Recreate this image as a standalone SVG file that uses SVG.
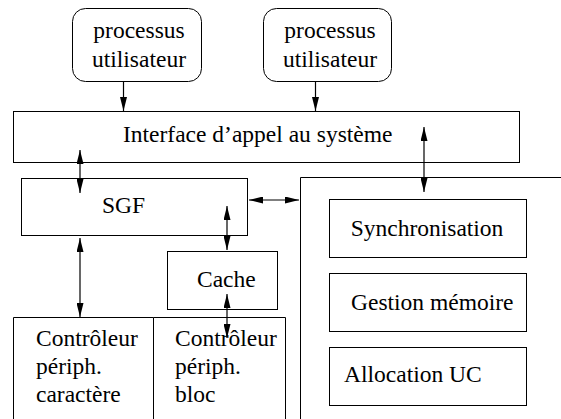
<svg xmlns="http://www.w3.org/2000/svg" width="561" height="419" viewBox="0 0 561 419">
  <style>
    .box { fill: none; stroke: #000; stroke-width: 1; }
    .lbl { font-family: 'Liberation Serif', 'DejaVu Serif', serif; font-size: 23.5px; fill: #000; }
    .mid { text-anchor: middle; }
    .wire { stroke: #000; stroke-width: 1.2; fill: none; }
    .one { marker-end: url(#head); }
    .two { marker-start: url(#head); marker-end: url(#head); }
  </style>
  <defs>
    <marker id="head" markerUnits="userSpaceOnUse" markerWidth="14" markerHeight="7" refX="14" refY="3.5" orient="auto-start-reverse">
      <path d="M0,0 L14,3.5 L0,7 Z" fill="#000"/>
    </marker>
  </defs>
  <rect width="561" height="419" fill="#fff"/>

  <!-- user processes -->
  <g id="proc-left">
    <rect class="box" x="72.5" y="8.5" width="129" height="73" rx="13"/>
    <text class="lbl mid" x="139" y="38">processus</text>
    <text class="lbl mid" x="139" y="67">utilisateur</text>
  </g>
  <g id="proc-right">
    <rect class="box" x="263.5" y="8.5" width="128" height="73" rx="13"/>
    <text class="lbl mid" x="330" y="38">processus</text>
    <text class="lbl mid" x="330" y="67">utilisateur</text>
  </g>

  <!-- system call interface -->
  <g id="interface">
    <rect class="box" x="13.5" y="111.5" width="506" height="51"/>
    <text class="lbl" x="123" y="142">Interface d’appel au système</text>
  </g>

  <!-- file system -->
  <g id="sgf">
    <rect class="box" x="21.5" y="178.5" width="226" height="57"/>
    <text class="lbl" x="102" y="213">SGF</text>
  </g>

  <g id="cache">
    <rect class="box" x="167.5" y="251.5" width="110" height="58"/>
    <text class="lbl" x="197" y="287">Cache</text>
  </g>

  <!-- device controllers -->
  <g id="ctrl-char">
    <polyline class="box" points="13.5,419 13.5,317.5 153.5,317.5 153.5,419"/>
    <text class="lbl" x="36" y="346">Contrôleur</text>
    <text class="lbl" x="36" y="374">périph.</text>
    <text class="lbl" x="36" y="402">caractère</text>
  </g>
  <g id="ctrl-block">
    <polyline class="box" points="153.5,317.5 285.5,317.5 285.5,419"/>
    <text class="lbl" x="175" y="346">Contrôleur</text>
    <text class="lbl" x="175" y="374">périph.</text>
    <text class="lbl" x="175" y="402">bloc</text>
  </g>

  <!-- process management -->
  <g id="process-mgmt">
    <polyline class="box" points="561,177.5 300.5,177.5 300.5,419"/>
  </g>
  <g id="sync">
    <rect class="box" x="329.5" y="199.5" width="197" height="58"/>
    <text class="lbl mid" x="427" y="236">Synchronisation</text>
  </g>
  <g id="memory">
    <rect class="box" x="329.5" y="273.5" width="197" height="58"/>
    <text class="lbl" x="351" y="310">Gestion mémoire</text>
  </g>
  <g id="cpu">
    <rect class="box" x="329.5" y="347.5" width="197" height="58"/>
    <text class="lbl" x="344" y="382">Allocation UC</text>
  </g>

  <!-- connectors -->
  <g id="connectors">
    <line class="wire one" x1="123.5" y1="82" x2="123.5" y2="111"/>
    <line class="wire one" x1="315.5" y1="82" x2="315.5" y2="111"/>
    <line class="wire two" x1="80" y1="150" x2="80" y2="193"/>
    <line class="wire two" x1="424" y1="127" x2="424" y2="192"/>
    <line class="wire two" x1="249" y1="200" x2="299" y2="200"/>
    <line class="wire two" x1="227" y1="206" x2="227" y2="250"/>
    <line class="wire two" x1="227" y1="294" x2="227" y2="338"/>
    <line class="wire two" x1="80" y1="238" x2="80" y2="317"/>
  </g>
</svg>
